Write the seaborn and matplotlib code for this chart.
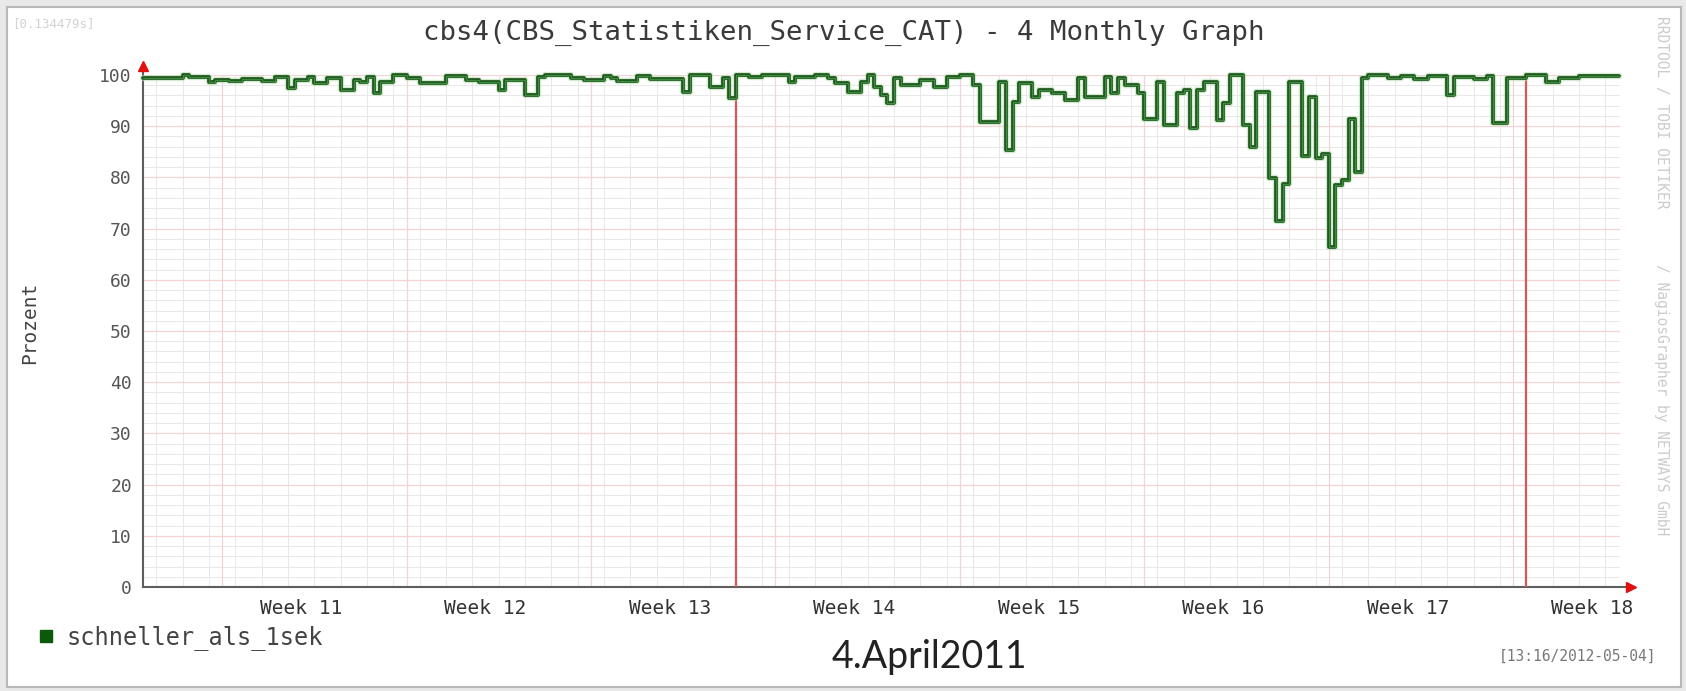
import numpy as np
import pandas as pd
import matplotlib
matplotlib.use("Agg")
import matplotlib.pyplot as plt
import matplotlib.dates as mdates
from matplotlib.ticker import MultipleLocator, FixedLocator
from matplotlib.lines import Line2D
from matplotlib.patches import Rectangle
import seaborn as sns

# ---------------- data ----------------
start_time = "2012-03-09 12:00"      # first 6-hour sample
end_time = "2012-05-04 13:16"        # graph end
n_samples = 224                      # 6-hour consolidated samples
# sample index where each level starts, and the level (percent)
level_starts = [0, 6, 7, 10, 11, 13, 15, 18, 20, 22, 23, 25, 26, 28, 30, 32, 33, 34, 35, 36,
                38, 40, 42, 46, 49, 51, 54, 55, 58, 60, 61, 65, 67, 70, 71, 72, 75, 77, 82, 83,
                86, 88, 89, 90, 92, 94, 98, 99, 102, 104, 105, 107, 109, 110, 111, 112, 113, 114,
                115, 118, 120, 122, 124, 126, 127, 130, 131, 132, 133, 135, 136, 138, 140, 142,
                143, 146, 147, 148, 149, 151, 152, 154, 155, 157, 158, 159, 160, 161, 163, 164,
                165, 167, 168, 169, 171, 172, 173, 174, 176, 177, 178, 179, 180, 181, 182, 183,
                184, 185, 186, 189, 191, 193, 195, 198, 199, 202, 204, 205, 207, 210, 213, 215, 218]
levels = [99.4, 100, 99.7, 98.7, 99.1, 98.8, 99.2, 98.9, 99.7, 97.4, 99.0, 99.7, 98.4, 99.4,
          97.1, 99.1, 98.7, 99.7, 96.5, 98.7, 100, 99.4, 98.5, 99.8, 99.1, 98.7, 97.0, 99.1,
          96.0, 99.7, 100, 99.4, 99.0, 99.9, 99.4, 98.9, 99.8, 99.2, 96.7, 100, 97.7, 99.4,
          95.5, 100, 99.7, 100, 98.7, 99.7, 100, 99.4, 98.4, 96.7, 98.7, 100, 97.7, 96.0,
          94.6, 99.4, 98.0, 99.0, 97.7, 99.7, 100, 98.0, 90.8, 98.7, 85.4, 94.8, 98.4, 95.8,
          97.1, 96.4, 95.1, 99.4, 95.8, 99.7, 96.4, 99.4, 98.0, 96.4, 91.5, 98.7, 90.2, 96.4,
          97.1, 89.6, 97.1, 98.7, 91.2, 94.5, 100, 90.2, 86.0, 96.7, 79.8, 71.4, 78.8, 98.7,
          84.1, 95.8, 83.8, 84.6, 66.5, 78.5, 79.5, 91.5, 81.1, 99.4, 100, 99.4, 99.8, 99.3,
          99.8, 96.0, 99.7, 99.3, 99.8, 90.6, 99.4, 100, 98.7, 99.4, 99.8]
series_name = "schneller_als_1sek"

week_labels = ["Week 11", "Week 12", "Week 13", "Week 14", "Week 15", "Week 16", "Week 17", "Week 18"]
week_label_times = ["2012-03-15 12:00", "2012-03-22 12:00", "2012-03-29 12:00", "2012-04-05 12:00",
                    "2012-04-12 12:00", "2012-04-19 12:00", "2012-04-26 12:00", "2012-05-03 12:00"]
month_marks = ["2012-04-01 00:00", "2012-05-01 00:00"]
y_ticks = [0, 10, 20, 30, 40, 50, 60, 70, 80, 90, 100]

title = "cbs4(CBS_Statistiken_Service_CAT) - 4 Monthly Graph"
y_label = "Prozent"
stamp = "[13:16/2012-05-04]"
runtime = "[0.134479s]"
side1 = "RRDTOOL / TOBI OETIKER"
side2 = "/ NagiosGrapher by NETWAYS GmbH"
note = "4.April2011"

# ---------------- build frame ----------------
assert len(level_starts) == len(levels)
lengths = np.diff(level_starts + [n_samples])
vals = np.repeat(levels, lengths)
vals = np.append(vals, vals[-1])
times = pd.date_range(start_time, periods=n_samples + 1, freq="6h")
df = pd.DataFrame({"time": times, "pct": vals})

# ---------------- figure ----------------
sns.set_theme(style="white")
plt.rcParams["font.family"] = ["DejaVu Sans Mono", "DejaVu Sans"]

W, H = 1686, 691
fig = plt.figure(figsize=(W / 100, H / 100), dpi=100, facecolor="#e9e9e9")
fig.patches.append(Rectangle((7 / W, 4 / H), (1681 - 7) / W, (687 - 7) / H,
                             transform=fig.transFigure, facecolor="white",
                             edgecolor="#b8b8b8", lw=1.5, zorder=-10))

L, R, T, B = 143, 1620, 75, 587
ax = fig.add_axes([L / W, 1 - B / H, (R - L) / W, (B - T) / H])
ax.set_zorder(1)
ax.set_facecolor("white")
ax.set_axisbelow(True)

# grid
ax.set_ylim(0, 100)
ax.set_xlim(pd.Timestamp(start_time), pd.Timestamp(end_time))
ax.yaxis.set_major_locator(FixedLocator(y_ticks))
ax.yaxis.set_minor_locator(MultipleLocator(2))
ax.xaxis.set_minor_locator(mdates.DayLocator())
ax.grid(which="minor", axis="both", color="#e8e8e8", lw=0.7)
ax.grid(which="major", axis="y", color="#f2d4d4", lw=0.9)
for monday in pd.date_range(start_time, end_time, freq="W-MON"):
    ax.axvline(monday, color="#f2d4d4", lw=0.9, zorder=0.6)

# month marks
for m in month_marks:
    ax.axvline(pd.Timestamp(m), color="#d95757", lw=1.6, zorder=3)

# data line (layered to mimic rrdtool rendering)
sns.lineplot(data=df, x="time", y="pct", ax=ax, drawstyle="steps-post", estimator=None,
             color="#b4dfae", lw=4.6, alpha=0.6, zorder=4, legend=False, clip_on=False)
sns.lineplot(data=df, x="time", y="pct", ax=ax, drawstyle="steps-post", estimator=None,
             color="#1f551f", lw=2.7, zorder=5, legend=False, clip_on=False)
sns.lineplot(data=df, x="time", y="pct", ax=ax, drawstyle="steps-post", estimator=None,
             color="#3b8c3b", lw=0.9, zorder=6, legend=False, clip_on=False)

# ticks
ax.set_xticks(pd.to_datetime(week_label_times))
ax.set_xticklabels(week_labels, fontsize=14, color="#333333")
ax.tick_params(axis="x", which="both", length=0, pad=9)
ax.set_yticklabels([str(v) for v in y_ticks], fontsize=13, color="#555555")
ax.tick_params(axis="y", which="major", length=6, direction="inout", color="#777777", pad=5, width=1)
ax.tick_params(axis="y", which="minor", length=0)
ax.set_xlabel("")
ax.set_ylabel("")

for s in ["top", "right"]:
    ax.spines[s].set_visible(False)
for s in ["left", "bottom"]:
    ax.spines[s].set_color("#5e5e5e")
    ax.spines[s].set_linewidth(1.5)

# axis arrows
ax.plot([0, 0], [1, 1 + 9 / (B - T)], transform=ax.transAxes, color="#5e5e5e", lw=1.5, clip_on=False)
ax.plot([0], [1 + 9 / (B - T)], transform=ax.transAxes, marker="^", color="#e01010", ms=7, clip_on=False)
ax.plot([1, 1 + 11 / (R - L)], [0, 0], transform=ax.transAxes, color="#5e5e5e", lw=1.5, clip_on=False)
ax.plot([1 + 11 / (R - L)], [0], transform=ax.transAxes, marker=">", color="#e01010", ms=7, clip_on=False)

# texts
fig.text(844 / W, 1 - 33 / H, title, ha="center", va="center", fontsize=19.7, color="#3a3a3a")
fig.text(30 / W, 1 - 323 / H, y_label, rotation=90, ha="center", va="center", fontsize=14, color="#444444")
fig.text(12 / W, 1 - 24 / H, runtime, ha="left", va="center", fontsize=9, color="#d2d2d2")
fig.text(1662 / W, 1 - 112 / H, side1, rotation=270, ha="center", va="center", fontsize=10.5, color="#cccccc")
fig.text(1662 / W, 1 - 400 / H, side2, rotation=270, ha="center", va="center", fontsize=10.5, color="#cccccc")
fig.text(1656 / W, 1 - 656 / H, stamp, ha="right", va="center", fontsize=10.5, color="#777777")
fig.text(929 / W, 1 - 657 / H, note, ha="center", va="center", fontsize=27, color="#222222",
         family=["Lato", "DejaVu Sans"])

handle = Line2D([], [], marker="s", ls="none", color="#0b5a0b", ms=9, label=series_name)
fig.legend(handles=[handle], loc="center left", bbox_to_anchor=(22 / W, 1 - 638 / H),
           frameon=False, fontsize=17, handletextpad=0.4, borderpad=0, handlelength=1,
           labelcolor="#444444")

fig.savefig("out.png", dpi=100, facecolor=fig.get_facecolor())
